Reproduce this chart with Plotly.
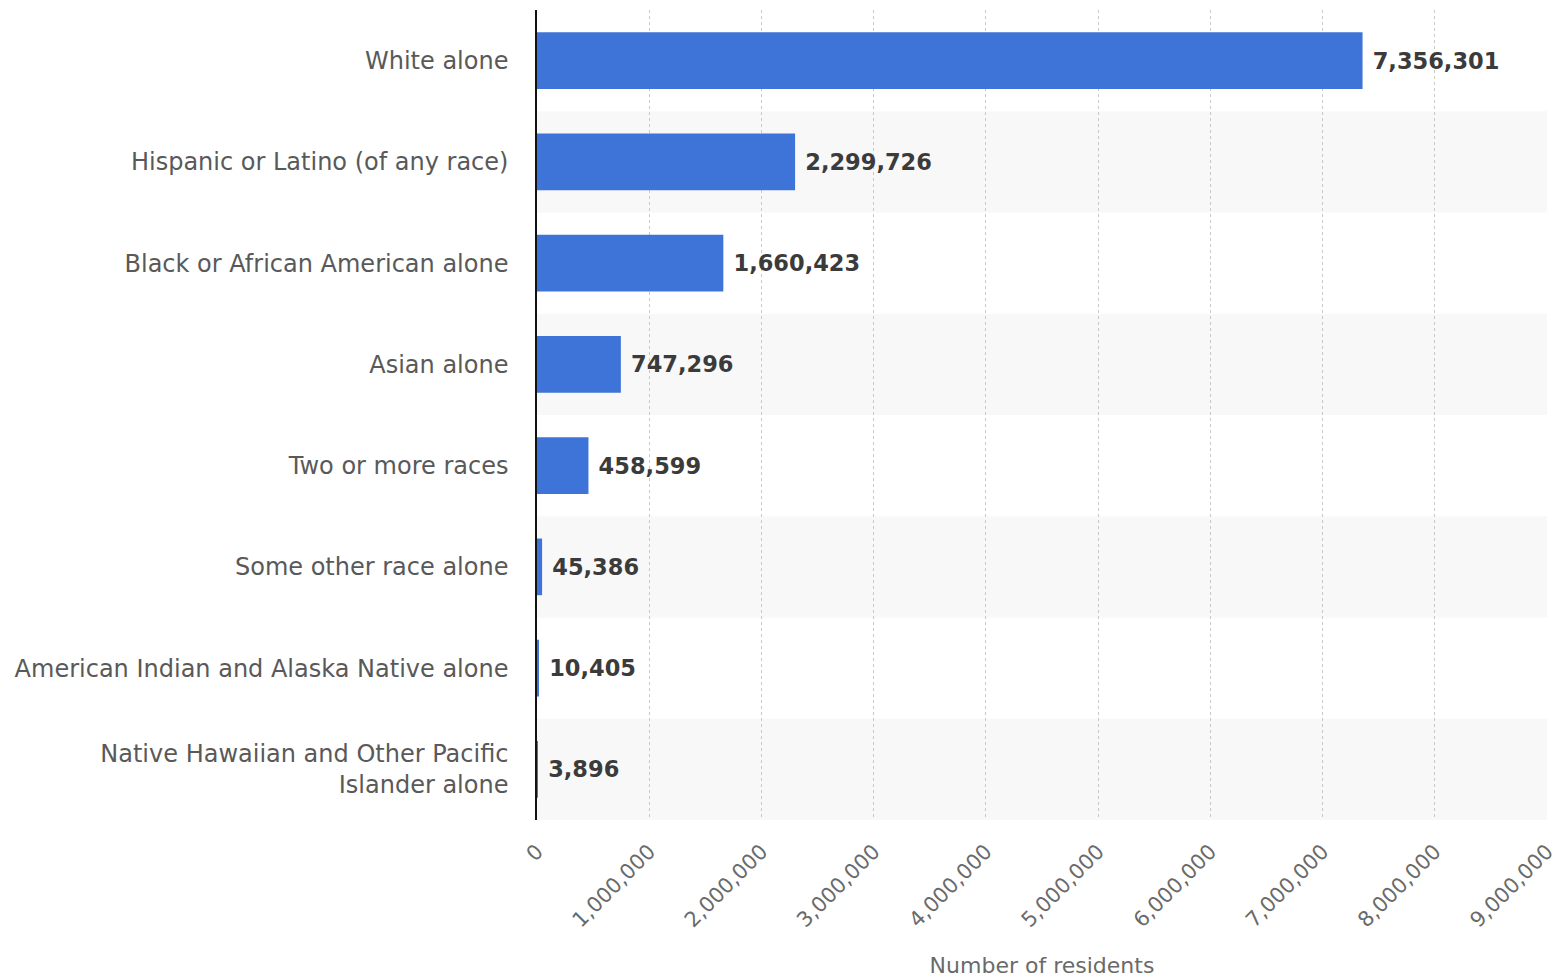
import plotly.graph_objects as go

categories = [
    "White alone",
    "Hispanic or Latino (of any race)",
    "Black or African American alone",
    "Asian alone",
    "Two or more races",
    "Some other race alone",
    "American Indian and Alaska Native alone",
    "Native Hawaiian and Other Pacific<br>Islander alone",
]
values = [7356301, 2299726, 1660423, 747296, 458599, 45386, 10405, 3896]
x_ticks = list(range(0, 9000001, 1000000))
x_tick_labels = [f"{v:,}" for v in x_ticks]

FONT = "DejaVu Sans"
fig = go.Figure()
fig.add_trace(go.Bar(
    y=categories, x=values, orientation="h",
    marker=dict(color="#3e74d8", line=dict(width=0)),
    width=0.56,
    text=[f"{v:,}" for v in values],
    texttemplate=" <b>%{text}</b>",
    textposition="outside",
    textfont=dict(family=FONT, size=22.5, color="#3b3b3b"),
    cliponaxis=False,
    hoverinfo="skip",
))

shapes = []
for i in range(len(categories)):
    if i % 2 == 1:
        shapes.append(dict(type="rect", xref="x domain", yref="y",
                           x0=0, x1=1, y0=i - 0.5, y1=i + 0.5,
                           fillcolor="#f8f8f8", line=dict(width=0), layer="below"))

fig.update_layout(
    width=1560, height=978,
    margin=dict(l=537, r=13, t=10, b=158, autoexpand=False),
    paper_bgcolor="white", plot_bgcolor="white",
    showlegend=False,
    shapes=shapes,
    font=dict(family=FONT, color="#555555"),
    xaxis=dict(
        range=[0, 9000000],
        tickvals=x_ticks, ticktext=x_tick_labels,
        tickangle=-45,
        tickfont=dict(family=FONT, size=21, color="#6a6a6a"),
        ticklabelstandoff=14,
        showgrid=True, gridcolor="#c8c8c8", griddash="dot", gridwidth=1,
        zeroline=False, showline=False,
        automargin=False,
        title=dict(text="Number of residents", font=dict(family=FONT, size=22, color="#6a6a6a"), standoff=26),
        fixedrange=True,
    ),
    yaxis=dict(
        autorange="reversed",
        automargin=False,
        tickfont=dict(family=FONT, size=24, color="#595959"),
        showgrid=False, zeroline=False,
        showline=True, linecolor="#111111", linewidth=1.5,
        ticklabelstandoff=22,
        fixedrange=True,
    ),
)

fig.write_html("out.html")
